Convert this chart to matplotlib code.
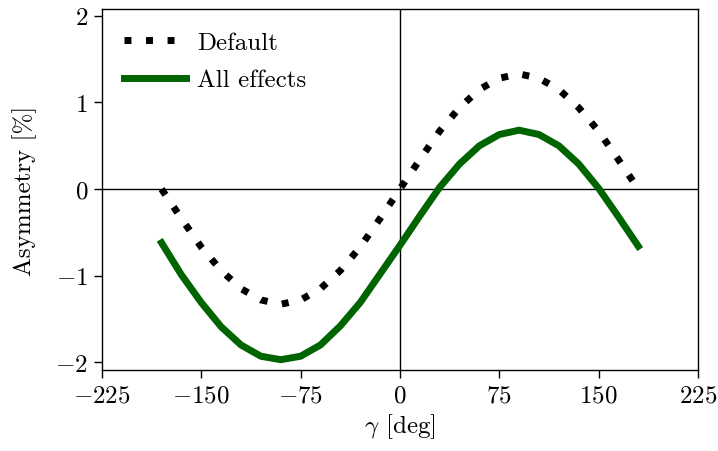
import matplotlib
matplotlib.use("Agg")
import matplotlib.pyplot as plt

# Data
gamma = [-180, -165, -150, -135, -120, -105, -90, -75, -60, -45, -30, -15, 0,
         15, 30, 45, 60, 75, 90, 105, 120, 135, 150, 165, 180]
default = [0.0, -0.34, -0.67, -0.94, -1.15, -1.28, -1.33, -1.28, -1.15, -0.94,
           -0.67, -0.34, 0.0, 0.34, 0.67, 0.94, 1.15, 1.28, 1.33, 1.28, 1.15,
           0.94, 0.67, 0.34, 0.0]
all_effects = [-0.62, -0.99, -1.31, -1.59, -1.80, -1.93, -1.97, -1.93, -1.80,
               -1.58, -1.31, -0.98, -0.65, -0.31, 0.02, 0.29, 0.50, 0.63, 0.68,
               0.63, 0.50, 0.29, 0.01, -0.32, -0.66]
xticks = [-225, -150, -75, 0, 75, 150, 225]
yticks = [-2, -1, 0, 1, 2]

plt.rcParams["font.family"] = "serif"
plt.rcParams["font.serif"] = ["cmr10"]
plt.rcParams["mathtext.fontset"] = "cm"
plt.rcParams["axes.formatter.use_mathtext"] = True
plt.rcParams["font.size"] = 18
plt.rcParams["axes.linewidth"] = 1.0

fig = plt.figure(figsize=(7.18, 4.52), dpi=100)
ax = fig.add_axes([0.142, 0.179, 0.830, 0.799])

ax.axhline(0, color="k", lw=1)
ax.axvline(0, color="k", lw=1)
ax.plot(gamma, default, linestyle=(0, (1, 2.1)), color="k", lw=5,
        label="Default")
ax.plot(gamma, all_effects, "-", color="#006400", lw=5, label="All effects")

ax.set_xlim(-225, 225)
ax.set_ylim(-2.09, 2.08)
ax.set_xticks(xticks)
ax.set_yticks(yticks)
ax.tick_params(length=6, width=1, pad=4)
ax.set_xlabel(r"$\gamma$ [deg]", labelpad=4)
ax.set_ylabel("Asymmetry [%]", labelpad=13)

ax.legend(frameon=False, loc="upper left", handlelength=2.45,
          handletextpad=0.45, labelspacing=0.6)

fig.savefig("out.png", dpi=100)
